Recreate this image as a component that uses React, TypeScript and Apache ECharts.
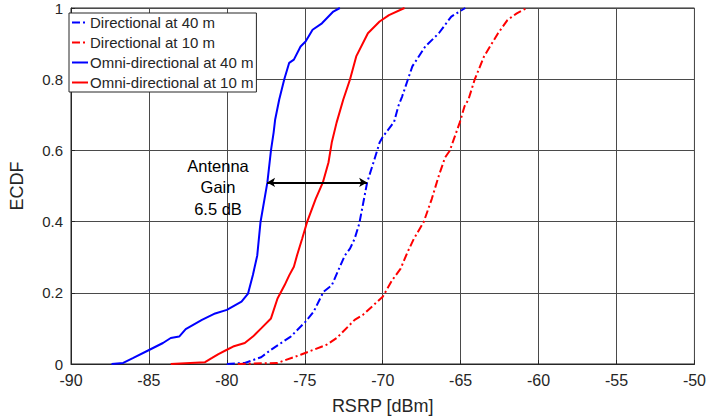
import React, { useEffect, useRef } from "react";
import * as echarts from "echarts";

const xTicks = [-90, -85, -80, -75, -70, -65, -60, -55, -50];
const yTicks = [0, 0.2, 0.4, 0.6, 0.8, 1];

const seriesNames = [
  "Directional at 40 m",
  "Directional at 10 m",
  "Omni-directional at 40 m",
  "Omni-directional at 10 m",
];

const dir40X = [-80, -78.85, -77.8, -77.17, -75.9, -74.95, -74.43, -73.8, -73.27, -72.43, -72.1, -71.8, -71.5, -71.0, -70.53, -70.2, -70.0, -69.27, -69.0, -68.75, -68.1, -67.27, -66.4, -65.6, -64.7];
const dir40Y = [0, 0.003, 0.019, 0.04, 0.077, 0.119, 0.147, 0.203, 0.221, 0.305, 0.324, 0.352, 0.395, 0.51, 0.575, 0.622, 0.638, 0.68, 0.724, 0.752, 0.836, 0.892, 0.929, 0.976, 1.0];

const dir10X = [-79.3, -76.75, -75.27, -73.6, -72.95, -71.8, -71.27, -70.0, -69.4, -68.85, -68.4, -68.0, -67.37, -66.85, -66.4, -66.0, -65.7, -65.06, -64.75, -64.5, -64.1, -63.5, -62.6, -62.0, -61.4, -60.75];
const dir10Y = [0, 0.003, 0.026, 0.054, 0.073, 0.124, 0.138, 0.189, 0.235, 0.268, 0.315, 0.352, 0.399, 0.464, 0.529, 0.58, 0.599, 0.678, 0.724, 0.743, 0.799, 0.864, 0.929, 0.966, 0.985, 1.0];

const omni40X = [-87.4, -86.65, -86.0, -84.96, -84.1, -83.6, -83.06, -82.64, -81.6, -80.75, -80.0, -79.06, -78.64, -78.33, -78.05, -77.84, -77.4, -77.17, -77.0, -76.9, -76.64, -76.32, -76.0, -75.7, -75.27, -74.95, -74.5, -73.9, -73.17, -72.75];
const omni40Y = [0, 0.003, 0.017, 0.04, 0.059, 0.073, 0.077, 0.098, 0.124, 0.142, 0.152, 0.175, 0.198, 0.25, 0.305, 0.399, 0.51, 0.6, 0.65, 0.687, 0.743, 0.799, 0.846, 0.855, 0.892, 0.906, 0.939, 0.957, 0.99, 1.0];

const omni10X = [-83.6, -81.4, -80.95, -80.54, -80.0, -79.6, -78.85, -78.33, -77.8, -77.17, -76.75, -76.3, -76.0, -75.7, -75.5, -75.17, -74.85, -74.3, -73.84, -73.48, -73.27, -72.96, -72.53, -72.1, -71.7, -70.95, -70.2, -69.6, -68.6];
const omni10Y = [0, 0.005, 0.017, 0.028, 0.04, 0.049, 0.059, 0.077, 0.1, 0.128, 0.184, 0.221, 0.249, 0.273, 0.305, 0.352, 0.399, 0.464, 0.51, 0.566, 0.622, 0.678, 0.743, 0.799, 0.864, 0.929, 0.962, 0.98, 1.0];

const arrowStart = [-77.42, 0.51];
const arrowEnd = [-71.0, 0.51];
const annotationText = "Antenna\nGain\n6.5 dB";

const FONT = "'Liberation Sans', Arial, Helvetica, sans-serif";
const TXT = "#262626";

const zip = (xs: number[], ys: number[]) => xs.map((x, i) => [x, ys[i]]);

export default function App() {
  const ref = useRef<HTMLDivElement>(null);
  useEffect(() => {
    if (!ref.current) return;
    const chart = echarts.init(ref.current, null, { renderer: "svg" });
    const dashDot = [8, 3, 2, 3];
    const mk = (name: string, data: number[][], color: string, dashed: boolean, extra: any = {}) => ({
      name,
      type: "line",
      data,
      symbol: "none",
      showSymbol: false,
      lineStyle: { color, width: 2, type: dashed ? dashDot : "solid" },
      itemStyle: { color },
      z: 3,
      ...extra,
    });
    chart.setOption({
      animation: false,
      textStyle: { fontFamily: FONT },
      grid: {
        left: 64,
        right: 12,
        top: 8,
        bottom: 54,
        show: true,
        borderColor: TXT,
        borderWidth: 1,
        backgroundColor: "#fff",
      },
      legend: {
        data: seriesNames,
        orient: "vertical",
        left: 69,
        top: 13,
        padding: [2, 3, 2, 2],
        itemGap: 5,
        itemWidth: 16,
        itemHeight: 14,
        borderColor: TXT,
        borderWidth: 1,
        backgroundColor: "#fff",
        itemStyle: { opacity: 0 },
        textStyle: { fontSize: 15, color: TXT, fontFamily: FONT, padding: [0, 0, 0, -3] },
        z: 10,
      },
      xAxis: {
        type: "value",
        min: xTicks[0],
        max: xTicks[xTicks.length - 1],
        interval: 5,
        name: "RSRP [dBm]",
        nameLocation: "middle",
        nameGap: 33,
        nameTextStyle: { fontSize: 18, color: TXT, fontFamily: FONT },
        axisLine: { show: true, lineStyle: { color: TXT } },
        axisTick: { show: true, inside: true, length: 4, lineStyle: { color: TXT } },
        axisLabel: { fontSize: 16, color: TXT, margin: 8, fontFamily: FONT },
        splitLine: { show: true, lineStyle: { color: "#4a4a4a", width: 1 } },
      },
      yAxis: {
        type: "value",
        min: yTicks[0],
        max: yTicks[yTicks.length - 1],
        interval: 0.2,
        name: "ECDF",
        nameLocation: "middle",
        nameGap: 45,
        nameTextStyle: { fontSize: 18, color: TXT, fontFamily: FONT },
        axisLine: { show: true, lineStyle: { color: TXT } },
        axisTick: { show: true, inside: true, length: 4, lineStyle: { color: TXT } },
        axisLabel: {
          fontSize: 15,
          color: TXT,
          margin: 8,
          fontFamily: FONT,
          formatter: (v: number) => String(Math.round(v * 10) / 10),
        },
        splitLine: { show: true, lineStyle: { color: "#4a4a4a", width: 1 } },
      },
      series: [
        mk(seriesNames[0], zip(dir40X, dir40Y), "#0000ff", true),
        mk(seriesNames[1], zip(dir10X, dir10Y), "#ff0000", true),
        mk(seriesNames[2], zip(omni40X, omni40Y), "#0000ff", false, {
          markLine: {
            silent: true,
            symbol: ["arrow", "arrow"],
            symbolSize: [7, 8],
            label: { show: false },
            lineStyle: { color: "#000", width: 2, type: "solid" },
            itemStyle: { color: "#000" },
            data: [[{ coord: arrowStart }, { coord: arrowEnd }]],
            z: 5,
          },
        }),
        mk(seriesNames[3], zip(omni10X, omni10Y), "#ff0000", false),
      ],
      graphic: [
        {
          type: "text",
          x: 218,
          y: 187,
          z: 10,
          style: {
            text: annotationText,
            fontSize: 16.5,
            fontFamily: FONT,
            fill: "#000",
            textAlign: "center",
            textVerticalAlign: "middle",
            lineHeight: 21.5,
          },
        },
      ],
    });
    return () => chart.dispose();
  }, []);
  return (
    <div
      ref={ref}
      style={{ position: "fixed", left: 0, top: 0, width: 709, height: 420, background: "#fff" }}
    />
  );
}
